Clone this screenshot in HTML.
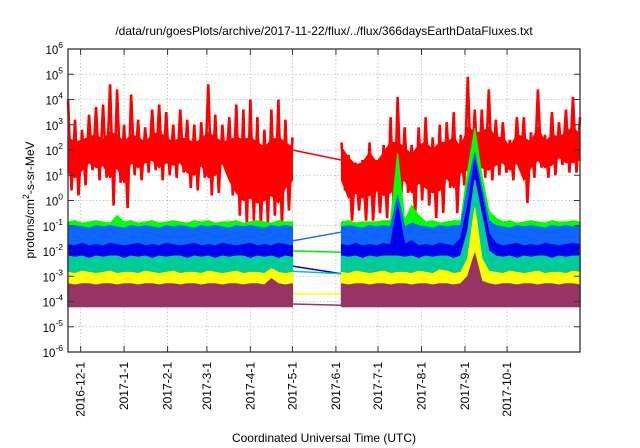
<!DOCTYPE html>
<html><head><meta charset="utf-8">
<style>
html,body{margin:0;padding:0;background:#fff;}
svg{display:block;font-family:"Liberation Sans",sans-serif;}
</style></head>
<body>
<svg id="chart" width="640" height="448" viewBox="0 0 640 448" xmlns="http://www.w3.org/2000/svg">
<text x="324" y="35" font-size="12" text-anchor="middle" fill="#000">/data/run/goesPlots/archive/2017-11-22/flux/../flux/366daysEarthDataFluxes.txt</text>
<text transform="translate(34,200) rotate(-90)" font-size="12" text-anchor="middle" fill="#000">protons/cm<tspan dy="-5" font-size="9">2</tspan><tspan dy="5">-s-sr-MeV</tspan></text>
<text x="324" y="442" font-size="12" text-anchor="middle" fill="#000">Coordinated Universal Time (UTC)</text>
<g id="grid"></g>
<g id="series"></g>
<g id="axes"></g>
</svg>
<script>
// ---- data ----
const yTickExps = [-6,-5,-4,-3,-2,-1,0,1,2,3,4,5,6];
const monthLabels = ["2016-12-1","2017-1-1","2017-2-1","2017-3-1","2017-4-1","2017-5-1","2017-6-1","2017-7-1","2017-8-1","2017-9-1","2017-10-1"];
const monthDays = [9,40,71,99,130,160,191,221,252,283,313]; // days since 2016-11-22
const stepDays = 5;
const preStart = 0, postStart = 195;
const redHi = [4,3.2,2.8,3.4,3.7,3.8,4.6,4.4,3,4.2,3.2,2.9,3.6,3.8,3.5,3,3.6,3.2,3,3.1,4.6,3.4,3,3.3,3.8,3.6,4,3.3,2.8,3.6,4,3.2,2.5,
  2.3,1.8,1.5,1.6,2.3,1.6,2.2,3.3,4.1,2.9,2.2,2.9,3.3,2.5,3.0,3.1,3.5,2.6,4.9,3.6,3.6,4.4,3.2,3.1,2.4,3.3,3.3,2.7,4.4,2.6,3.5,3.1,3.6,4.1,3.3];
const redLo = [0.4,0.2,0.6,1.2,0.8,0.9,-0.2,0.7,-0.3,1,0.8,1.1,1.2,0.8,1,0.9,1.1,0.5,0.4,0.9,0.2,0.3,1.2,0.2,-0.6,-1,-0.8,-1,-0.9,-0.6,-1,-0.4,0,
  0.4,-0.8,-0.4,-0.8,-0.8,-0.5,-0.7,-0.8,0.1,0.3,-0.6,0,-0.2,-0.7,-0.5,0.5,-0.5,0.6,0.7,0.6,0.9,0.8,1,1.1,0.8,1.2,-0.1,0.9,1.3,0.9,1,1.4,1.1,1.1,1.3];
const redCoreHi = [2.5,2.3,2.4,2.5,2.6,2.4,2.7,2.6,2.3,2.6,2.5,2.3,2.6,2.7,2.5,2.3,2.5,2.4,2.3,2.4,2.7,2.5,2.3,2.4,2.5,2.4,2.5,2.3,2.1,2.4,2.5,2.3,2.1,
  2.1,1.7,1.4,1.5,1.9,1.5,1.9,2.3,2.3,2.1,1.8,2.2,2.3,2.0,2.3,2.3,2.5,2.1,2.9,2.7,2.7,2.9,2.5,2.5,2.1,2.6,2.5,2.3,2.9,2.3,2.6,2.5,2.7,2.9,2.6];
const redCoreLo = [1.1,0.9,1.2,1.5,1.3,1.4,0.9,1.3,0.7,1.5,1.3,1.5,1.6,1.3,1.5,1.4,1.5,1.1,1.0,1.4,0.9,1.0,1.5,0.8,0.3,0.0,0.1,-0.1,0.0,0.2,-0.1,0.5,0.8,
  0.8,0.1,0.3,0.1,0.2,0.4,0.2,0.3,0.7,0.8,0.3,0.7,0.5,0.3,0.4,0.9,0.5,1.1,1.2,1.1,1.3,1.2,1.4,1.5,1.2,1.5,0.8,1.3,1.6,1.3,1.4,1.7,1.5,1.5,1.6];
const greenTop = [-0.85,-0.8,-0.9,-0.85,-0.8,-0.85,-0.9,-0.6,-0.85,-0.8,-0.9,-0.85,-0.8,-0.9,-0.85,-0.8,-0.85,-0.9,-0.8,-0.85,-0.8,-0.9,-0.85,-0.85,-0.8,-0.9,-0.85,-0.8,-0.85,-0.9,-0.8,-0.85,-0.85,
  -0.85,-0.8,-0.9,-0.85,-0.85,-0.85,-0.8,-0.8,1.85,-0.8,-0.2,-0.6,-0.85,-0.8,-0.9,-0.85,-0.8,-0.8,1.2,2.85,1.0,-0.4,-0.7,-0.85,-0.8,-0.9,-0.85,-0.8,-0.85,-0.9,-0.8,-0.85,-0.85,-0.8,-0.85];
const lightBlueTop = [-1.05,-1.0,-1.05,-1.1,-1.0,-1.05,-1.0,-1.05,-1.1,-1.0,-1.05,-1.0,-1.05,-1.1,-1.0,-1.05,-1.0,-1.05,-1.1,-1.0,-1.05,-1.0,-1.05,-1.1,-1.0,-1.05,-1.0,-1.05,-1.1,-1.0,-1.05,-1.0,-1.05,
  -1.05,-1.0,-1.05,-1.1,-1.0,-1.05,-1.0,-1.05,0.2,-1.05,-0.9,-1.0,-1.05,-1.1,-1.0,-1.05,-1.0,-1.0,0.6,1.9,0.5,-0.8,-1.0,-1.05,-1.1,-1.0,-1.05,-1.0,-1.05,-1.1,-1.0,-1.05,-1.0,-1.05,-1.0];
const darkBlueTop = [-1.75,-1.8,-1.7,-1.8,-1.75,-1.8,-1.7,-1.75,-1.8,-1.75,-1.7,-1.8,-1.75,-1.8,-1.7,-1.75,-1.8,-1.75,-1.7,-1.8,-1.75,-1.8,-1.7,-1.75,-1.8,-1.75,-1.7,-1.8,-1.75,-1.8,-1.7,-1.75,-1.8,
  -1.75,-1.8,-1.7,-1.8,-1.75,-1.8,-1.7,-1.75,-0.2,-1.75,-1.6,-1.8,-1.75,-1.8,-1.7,-1.75,-1.8,-1.5,-0.2,1.6,0.2,-1.3,-1.7,-1.8,-1.75,-1.7,-1.8,-1.75,-1.8,-1.7,-1.75,-1.8,-1.75,-1.7,-1.75];
const tealTop = [-2.2,-2.25,-2.2,-2.3,-2.2,-2.25,-2.2,-2.2,-2.3,-2.2,-2.25,-2.2,-2.3,-2.2,-2.25,-2.2,-2.2,-2.3,-2.2,-2.25,-2.2,-2.3,-2.2,-2.25,-2.2,-2.2,-2.3,-2.2,-2.25,-2.2,-2.3,-2.2,-2.25,
  -2.2,-2.25,-2.2,-2.3,-2.2,-2.25,-2.2,-2.2,-2.2,-2.25,-2.2,-2.3,-2.2,-2.25,-2.2,-2.2,-2.3,-2.2,-1.2,0.8,-0.6,-2.0,-2.2,-2.25,-2.2,-2.3,-2.2,-2.25,-2.2,-2.2,-2.3,-2.2,-2.25,-2.2,-2.2];
const yellowTop = [-2.85,-2.9,-2.8,-2.85,-2.9,-2.85,-2.8,-2.9,-2.85,-2.85,-2.9,-2.8,-2.85,-2.9,-2.85,-2.8,-2.9,-2.85,-2.85,-2.9,-2.8,-2.85,-2.9,-2.85,-2.8,-2.9,-2.85,-2.85,-2.9,-2.7,-2.85,-2.9,-2.85,
  -2.85,-2.9,-2.8,-2.85,-2.9,-2.85,-2.8,-2.9,-2.85,-2.85,-2.9,-2.8,-2.85,-2.9,-2.75,-2.8,-2.9,-2.85,-2.3,-0.3,-2.3,-2.8,-2.85,-2.9,-2.8,-2.85,-2.9,-2.85,-2.8,-2.9,-2.85,-2.85,-2.9,-2.8,-2.85];
const maroonTop = [-3.3,-3.35,-3.3,-3.3,-3.35,-3.3,-3.3,-3.35,-3.3,-3.3,-3.35,-3.3,-3.3,-3.35,-3.3,-3.3,-3.35,-3.3,-3.3,-3.35,-3.3,-3.3,-3.35,-3.3,-3.3,-3.35,-3.3,-3.3,-3.35,-3.1,-3.3,-3.35,-3.3,
  -3.3,-3.35,-3.3,-3.3,-3.35,-3.3,-3.3,-3.35,-3.3,-3.3,-3.35,-3.3,-3.3,-3.35,-3.3,-3.3,-3.35,-3.3,-3.0,-2.1,-3.2,-3.3,-3.35,-3.3,-3.3,-3.35,-3.3,-3.3,-3.35,-3.3,-3.3,-3.35,-3.3,-3.3,-3.35];
const maroonBottom = -4.2;
const bandBottom = -4.2;
const gapRed = [2.0, 1.6], gapLightBlue = [-1.6,-1.25], gapGreen = [-2.0,-2.05], gapDarkBlue = [-2.6,-2.9], gapTeal = [-2.8,-2.9], gapYellow = [-3.7,-3.7], gapMaroon = [-4.1,-4.15];

// ---- scales ----
const L=68,R=580,T=49,B=352,DAYS=365;
const X = d => L + d*(R-L)/DAYS;
const Y = v => B - (v+6)*(B-T)/12;
const NS="http://www.w3.org/2000/svg";
function mk(tag, parent){const e=document.createElementNS(NS,tag);parent.appendChild(e);return e;}
const grid=document.getElementById('grid'), ser=document.getElementById('series'), axes=document.getElementById('axes');

yTickExps.forEach(e=>{
  const y=Y(e);
  if(e>-6&&e<6){const g=mk('line',grid);
    
    
    g.setAttribute('x1',L);g.setAttribute('x2',R);g.setAttribute('y1',y);g.setAttribute('y2',y);
    g.setAttribute('stroke','#bbb');g.setAttribute('stroke-width','0.8');g.setAttribute('stroke-dasharray','1.5,2');}
  const t1=mk('line',axes);t1.setAttribute('x1',L);t1.setAttribute('x2',L+6);t1.setAttribute('y1',y);t1.setAttribute('y2',y);t1.setAttribute('stroke','#333');
  const t2=mk('line',axes);t2.setAttribute('x1',R-6);t2.setAttribute('x2',R);t2.setAttribute('y1',y);t2.setAttribute('y2',y);t2.setAttribute('stroke','#333');
  const tx=mk('text',axes);
  
  
  tx.setAttribute('x',L-5);tx.setAttribute('y',y+5);tx.setAttribute('text-anchor','end');tx.setAttribute('font-size','11.5');
  tx.innerHTML='10<tspan dy="-6" font-size="8.5">'+e+'</tspan>';
});
monthDays.forEach((d,i)=>{
  const x=X(d);
  const g=mk('line',grid);
  
  
  g.setAttribute('x1',x);g.setAttribute('x2',x);g.setAttribute('y1',T);g.setAttribute('y2',B);
  g.setAttribute('stroke','#bbb');g.setAttribute('stroke-width','0.8');g.setAttribute('stroke-dasharray','1.5,2');
  const t1=mk('line',axes);t1.setAttribute('x1',x);t1.setAttribute('x2',x);t1.setAttribute('y1',B);t1.setAttribute('y2',B-6);t1.setAttribute('stroke','#333');
  const t2=mk('line',axes);t2.setAttribute('x1',x);t2.setAttribute('x2',x);t2.setAttribute('y1',T);t2.setAttribute('y2',T+6);t2.setAttribute('stroke','#333');
  const tx=mk('text',axes);
  
  
  tx.setAttribute('transform','translate('+(x+4)+',362) rotate(-90)');
  tx.setAttribute('text-anchor','end');tx.setAttribute('font-size','12');
  tx.textContent=monthLabels[i];
});
const fr=mk('rect',axes);


fr.setAttribute('x',L);fr.setAttribute('y',T);fr.setAttribute('width',R-L);fr.setAttribute('height',B-T);
fr.setAttribute('fill','none');fr.setAttribute('stroke','#333');fr.setAttribute('stroke-width','1.3');

const nPre=33;
function dayOf(i){return i<nPre? preStart+i*stepDays : postStart+(i-nPre)*stepDays;}
function dayClamp(d){return Math.min(d,DAYS);}
function band(top, bot, color, name){
  [[0,nPre],[nPre,top.length]].forEach(([a,b])=>{
    let pts=[];
    for(let i=a;i<b;i++) pts.push(X(dayClamp(dayOf(i)))+','+Y(top[i]));
    for(let i=b-1;i>=a;i--){const v=Array.isArray(bot)?bot[i]:bot; pts.push(X(dayClamp(dayOf(i)))+','+Y(v));}
    const p=mk('polygon',ser);
    
    
    p.setAttribute('points',pts.join(' '));
    p.setAttribute('fill',color);p.setAttribute('stroke',color);p.setAttribute('stroke-width','1.2');p.setAttribute('stroke-linejoin','round');
  });
}
function zigzag(hi, lo, color, name){
  [[0,nPre],[nPre,hi.length]].forEach(([a,b])=>{
    let pts=[];
    for(let i=a;i<b;i++){
      const d=dayOf(i);
      pts.push(X(dayClamp(d))+','+Y(hi[i]));
      if(i<b-1) pts.push(X(dayClamp(d+2.5))+','+Y(lo[i]));
    }
    const p=mk('polyline',ser);
    
    
    p.setAttribute('points',pts.join(' '));
    p.setAttribute('fill','none');p.setAttribute('stroke',color);p.setAttribute('stroke-width','2.6');
  });
}
function gap(vals,color,name){
  const l=mk('line',ser);
  
  
  l.setAttribute('x1',X(dayOf(nPre-1)));l.setAttribute('x2',X(postStart));
  l.setAttribute('y1',Y(vals[0]));l.setAttribute('y2',Y(vals[1]));
  l.setAttribute('stroke',color);l.setAttribute('stroke-width','1.5');
}
gap(gapRed,'#ff0000','red-gap-line');
gap(gapLightBlue,'#1a6bff','lightblue-gap-line');
gap(gapGreen,'#00ee00','green-gap-line');
gap(gapDarkBlue,'#0000e0','darkblue-gap-line');
gap(gapTeal,'#00cc99','teal-gap-line');
gap(gapYellow,'#ffff00','yellow-gap-line');
gap(gapMaroon,'#993366','maroon-gap-line');
band(redCoreHi, redCoreLo, '#ff0000', 'red-series-core');
zigzag(redHi, redLo, '#ff0000', 'red-series');
band(greenTop, bandBottom, '#00ff00', 'green-series');
band(lightBlueTop, bandBottom, '#0f66ff', 'lightblue-series');
band(darkBlueTop, bandBottom, '#0000ee', 'darkblue-series');
band(tealTop, bandBottom, '#00cc99', 'teal-series');
band(yellowTop, bandBottom, '#ffff00', 'yellow-series');
band(maroonTop, maroonBottom, '#993366', 'maroon-series');
</script>
</body></html>
